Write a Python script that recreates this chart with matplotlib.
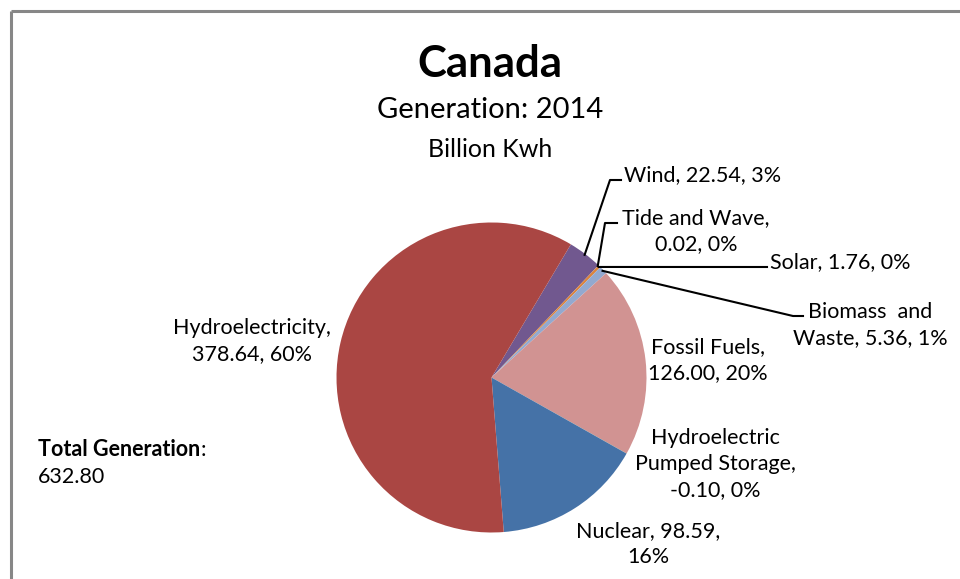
import numpy as np
import matplotlib.pyplot as plt

plt.rcParams['font.family'] = ['Lato', 'DejaVu Sans']

# slices, clockwise from the hydro/wind boundary
sources = ['Wind', 'Tide and Wave', 'Solar', 'Biomass  and Waste', 'Fossil Fuels',
           'Hydroelectric Pumped Storage', 'Nuclear', 'Hydroelectricity']
values = [22.54, 0.02, 1.76, 5.36, 126.00, -0.10, 98.59, 378.64]
pct_labels = [3, 0, 0, 1, 20, 0, 16, 60]   # as printed on the chart
colors = ['#71588F', '#4198AF', '#DB843D', '#93A9CF', '#D19392',
          '#89A54E', '#4572A7', '#AA4643']
total = 632.80

W, H = 960, 579
fig = plt.figure(figsize=(W / 100, H / 100), dpi=100)
ax = fig.add_axes([0, 0, 1, 1])

def Y(y):
    # pixel rows counted from the top
    return H - y

cx, cy, R = 491.5, Y(377.5), 155
sizes = np.abs(values)
wedges, _ = ax.pie(sizes, colors=colors, startangle=59.2, counterclock=False,
                   center=(cx, cy), radius=R, frame=True,
                   wedgeprops=dict(linewidth=0))
ax.set_xlim(0, W)
ax.set_ylim(0, H)
ax.set_aspect('equal')
ax.axis('off')

def lab(i):
    return f"{values[i]:.2f}, {pct_labels[i]}%"

fs = 15.5
# chart frame (top and left only visible)
ax.plot([11, W], [Y(11), Y(11)], color='#878787', lw=2.2, solid_capstyle='butt')
ax.plot([11, 11], [Y(11), 0], color='#878787', lw=2.2, solid_capstyle='butt')

# titles
ax.text(490, Y(77), 'Canada', ha='center', va='baseline', fontsize=31.5, fontweight='bold')
ax.text(490, Y(118), 'Generation: 2014', ha='center', va='baseline', fontsize=21)
ax.text(490, Y(157), 'Billion Kwh', ha='center', va='baseline', fontsize=18)

def rim(i, r=R - 1):
    w = wedges[i]
    a = np.deg2rad((w.theta1 + w.theta2) / 2)
    return cx + r * np.cos(a), cy + r * np.sin(a)

# leader lines for the thin slices
leaders = {0: [(610, 180), (621, 180)],
           1: [(605, 223), (617, 223)],
           2: [(767, 267)],
           3: [(793, 316), (803, 316)]}
for i, pts in leaders.items():
    x0, y0 = rim(i)
    xs = [x0] + [p[0] for p in pts]
    ys = [y0] + [Y(p[1]) for p in pts]
    ax.plot(xs, ys, color='black', lw=1.5)

ax.text(624, Y(175), f"Wind, {lab(0)}", ha='left', va='center', fontsize=fs)
ax.text(696, Y(231), f"Tide and Wave,\n{lab(1)}", ha='center', va='center',
        fontsize=fs, linespacing=1.4)
ax.text(770, Y(262), f"Solar, {lab(2)}", ha='left', va='center', fontsize=fs)
ax.text(870, Y(325), f"Biomass  and\nWaste, {lab(3)}", ha='center', va='center',
        fontsize=fs, linespacing=1.4)
ax.text(708, Y(360), f"Fossil Fuels,\n{lab(4)}", ha='center', va='center',
        fontsize=fs, linespacing=1.4)
ax.text(715, Y(464), f"Hydroelectric\nPumped Storage,\n{lab(5)}", ha='center',
        va='center', fontsize=fs, linespacing=1.4)
ax.text(648, Y(544), f"Nuclear, {values[6]:.2f},\n{pct_labels[6]}%", ha='center',
        va='center', fontsize=fs, linespacing=1.4)
ax.text(252, Y(341), f"Hydroelectricity,\n{lab(7)}", ha='center', va='center',
        fontsize=fs, linespacing=1.4)

t = ax.text(38, Y(450), 'Total Generation', ha='left', va='center',
            fontsize=fs, fontweight='bold')
fig.canvas.draw()
bb = t.get_window_extent()
ax.text(bb.x1, Y(450), ':', ha='left', va='center', fontsize=fs)
ax.text(38, Y(477), f"{total:.2f}", ha='left', va='center', fontsize=fs)

fig.savefig('out.png', dpi=100)
